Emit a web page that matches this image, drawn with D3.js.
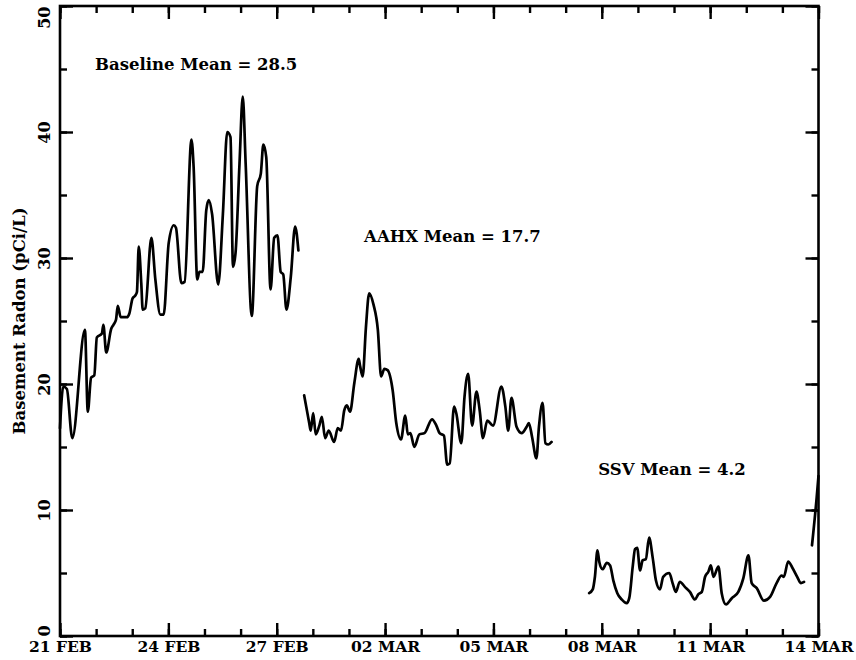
<!DOCTYPE html>
<html>
<head>
<meta charset="utf-8">
<script src="https://cdn.jsdelivr.net/npm/d3@7"></script>
<style>
  body { margin: 0; background: #fff; }
  text { font-family: "DejaVu Serif", serif; font-weight: bold; fill: #000; }
</style>
</head>
<body>
<svg id="chart" width="856" height="660"></svg>
<script>
// days since 21 FEB, radon in pCi/L
const dayTicks = [0, 3, 6, 9, 12, 15, 18, 21];
const dayLabels = ["21 FEB", "24 FEB", "27 FEB", "02 MAR", "05 MAR", "08 MAR", "11 MAR", "14 MAR"];
const radonTicks = [0, 10, 20, 30, 40, 50];

const baseline = [
  [0, 16.5], [0.09, 19.8], [0.19, 19.6], [0.34, 15.7], [0.69, 24.3], [0.77, 17.8], [0.86, 20.5],
  [0.95, 20.7], [1.02, 23.7], [1.16, 24.0], [1.2, 24.7], [1.28, 22.5], [1.42, 24.4], [1.48, 24.7],
  [1.55, 25.1], [1.6, 26.2], [1.68, 25.3], [1.85, 25.3], [1.92, 25.6], [2.01, 26.8], [2.08, 27.0],
  [2.13, 27.3], [2.18, 30.9], [2.25, 28.0], [2.29, 25.9], [2.36, 26.0], [2.53, 31.6], [2.64, 28.3],
  [2.78, 25.5], [2.87, 25.5], [3.01, 31.2], [3.15, 32.6], [3.21, 32.4], [3.36, 28.0], [3.45, 28.1],
  [3.64, 39.4], [3.7, 37.2], [3.8, 28.3], [3.86, 28.9], [3.95, 28.9], [4.05, 33.8], [4.12, 34.6],
  [4.21, 33.5], [4.38, 27.9], [4.51, 33.5], [4.63, 40.0], [4.72, 39.6], [4.79, 29.3], [4.86, 30.4],
  [4.97, 37.5], [5.06, 42.8], [5.14, 37.5], [5.31, 25.4], [5.46, 35.7], [5.56, 36.7], [5.63, 39.0],
  [5.71, 38.0], [5.83, 27.5], [5.93, 31.6], [6.02, 31.8], [6.11, 28.9], [6.18, 28.7], [6.27, 25.9],
  [6.39, 28.5], [6.51, 32.5], [6.6, 30.6]
];

const aahx = [
  [6.76, 19.1], [6.9, 16.9], [6.94, 16.3], [7.01, 17.7], [7.08, 16.0], [7.18, 16.7], [7.25, 17.4],
  [7.34, 15.7], [7.44, 16.3], [7.59, 15.4], [7.69, 16.5], [7.78, 16.3], [7.87, 17.9], [7.94, 18.3],
  [8.03, 17.8], [8.15, 20.1], [8.27, 22.0], [8.31, 21.4], [8.38, 20.6], [8.47, 24.5], [8.56, 27.2],
  [8.68, 26.3], [8.8, 24.3], [8.89, 20.6], [8.98, 21.2], [9.07, 21.1], [9.21, 19.5], [9.31, 16.9],
  [9.44, 15.6], [9.56, 17.5], [9.63, 16.0], [9.7, 16.1], [9.81, 15.0], [9.95, 16.0], [10.09, 16.1],
  [10.3, 17.2], [10.42, 16.7], [10.51, 16.1], [10.63, 15.9], [10.72, 13.6], [10.79, 13.7], [10.91, 18.2],
  [10.97, 17.7], [11.11, 15.3], [11.2, 19.0], [11.3, 20.8], [11.41, 16.7], [11.53, 19.4], [11.62, 17.9],
  [11.71, 15.7], [11.83, 17.1], [11.99, 16.7], [12.22, 19.8], [12.33, 18.2], [12.41, 16.3], [12.5, 18.9],
  [12.64, 16.6], [12.78, 16.1], [12.92, 16.6], [12.98, 16.9], [13.07, 15.8], [13.19, 14.1], [13.26, 16.6],
  [13.36, 18.5], [13.44, 15.3], [13.52, 15.2], [13.61, 15.4]
];

const ssv = [
  [14.65, 3.4], [14.75, 3.7], [14.81, 4.7], [14.88, 6.8], [14.93, 5.9], [15.02, 5.3], [15.14, 5.8],
  [15.23, 5.6], [15.32, 4.4], [15.43, 3.4], [15.55, 2.9], [15.69, 2.6], [15.76, 3.0], [15.86, 5.6],
  [15.92, 6.9], [15.98, 7.0], [16.06, 5.2], [16.13, 6.0], [16.22, 6.1], [16.31, 7.8], [16.41, 6.2],
  [16.5, 4.4], [16.61, 3.7], [16.7, 4.7], [16.87, 5.0], [16.96, 4.2], [17.05, 3.5], [17.16, 4.3],
  [17.3, 3.9], [17.44, 3.5], [17.58, 2.9], [17.67, 3.3], [17.77, 3.5], [17.86, 4.7], [17.95, 5.1],
  [18.02, 5.6], [18.09, 4.7], [18.23, 5.5], [18.32, 3.4], [18.44, 2.5], [18.6, 3.0], [18.78, 3.5],
  [18.92, 4.6], [19.06, 6.4], [19.15, 4.2], [19.29, 3.8], [19.49, 2.8], [19.66, 3.1], [19.84, 4.2],
  [19.98, 4.8], [20.04, 4.7], [20.16, 5.9], [20.28, 5.4], [20.41, 4.7], [20.51, 4.2], [20.6, 4.3]
];

const lastRun = [[20.82, 7.2], [20.95, 11.0], [21.0, 12.7]];

const notes = [
  { text: "Baseline Mean = 28.5", day: 0.97, radon: 44.9 },
  { text: "AAHX Mean = 17.7", day: 8.42, radon: 31.3 },
  { text: "SSV Mean = 4.2", day: 14.9, radon: 12.8 }
];

const svg = d3.select("#chart");
const width = 856, height = 660;
const margin = { top: 6, right: 37.5, bottom: 24, left: 60 };
const innerWidth = width - margin.left - margin.right;
const innerHeight = height - margin.top - margin.bottom;
const g = svg.append("g").attr("transform", `translate(${margin.left},${margin.top})`);

const x = d3.scaleLinear().domain([0, 21]).range([0, innerWidth]);
const y = d3.scaleLinear().domain([0, 50]).range([innerHeight, 0]);

const minorDays = d3.range(0, 22);
const minorRadon = d3.range(0, 51, 5);

function styleAxis(sel) {
  sel.select(".domain").remove();
  sel.selectAll(".tick line").attr("stroke", "#000").attr("stroke-width", 2.4);
}

// minor ticks (inward), all four sides
g.append("g").attr("transform", `translate(0,${innerHeight})`)
  .call(d3.axisBottom(x).tickValues(minorDays).tickSize(-7).tickFormat(""))
  .call(styleAxis);
g.append("g")
  .call(d3.axisTop(x).tickValues(minorDays).tickSize(-7).tickFormat(""))
  .call(styleAxis);
g.append("g")
  .call(d3.axisLeft(y).tickValues(minorRadon).tickSize(-7).tickFormat(""))
  .call(styleAxis);
g.append("g").attr("transform", `translate(${innerWidth},0)`)
  .call(d3.axisRight(y).tickValues(minorRadon).tickSize(-7).tickFormat(""))
  .call(styleAxis);

// major ticks
const xAxis = g.append("g").attr("transform", `translate(0,${innerHeight})`)
  .call(d3.axisBottom(x).tickValues(dayTicks).tickSize(-13)
    .tickFormat((d, i) => dayLabels[i]))
  .call(styleAxis);
xAxis.selectAll("text")
  .attr("y", 16)
  .attr("dy", 0)
  .style("font-size", "15.5px")
  .style("font-family", "DejaVu Serif");

g.append("g")
  .call(d3.axisTop(x).tickValues(dayTicks).tickSize(-13).tickFormat(""))
  .call(styleAxis);

const yAxis = g.append("g")
  .call(d3.axisLeft(y).tickValues(radonTicks).tickSize(-13))
  .call(styleAxis);
yAxis.selectAll("text")
  .attr("transform", "rotate(-90)")
  .attr("x", 0)
  .attr("y", -10)
  .attr("dy", 0)
  .attr("text-anchor", d => d === 50 ? "end" : d === 0 ? "start" : "middle")
  .style("font-size", "16px")
  .style("font-family", "DejaVu Serif");

g.append("g").attr("transform", `translate(${innerWidth},0)`)
  .call(d3.axisRight(y).tickValues(radonTicks).tickSize(-13).tickFormat(""))
  .call(styleAxis);

// frame
g.append("rect")
  .attr("width", innerWidth)
  .attr("height", innerHeight)
  .attr("fill", "none")
  .attr("stroke", "#000")
  .attr("stroke-width", 2.6);

svg.append("text")
  .attr("transform", `translate(25,${margin.top + innerHeight / 2}) rotate(-90)`)
  .attr("text-anchor", "middle")
  .style("font-size", "16.5px")
  .text("Basement Radon (pCi/L)");

const line = d3.line()
  .curve(d3.curveMonotoneX)
  .x(d => x(d[0]))
  .y(d => y(d[1]));

[baseline, aahx, ssv, lastRun].forEach(run => {
  g.append("path")
    .datum(run)
    .attr("fill", "none")
    .attr("stroke", "#000")
    .attr("stroke-width", 2.7)
    .attr("stroke-linejoin", "round")
    .attr("stroke-linecap", "round")
    .attr("d", line);
});

g.selectAll(".note")
  .data(notes)
  .enter()
  .append("text")
  .attr("class", "note")
  .attr("x", d => x(d.day))
  .attr("y", d => y(d.radon))
  .style("font-size", "16.5px")
  .text(d => d.text);
</script>
</body>
</html>
